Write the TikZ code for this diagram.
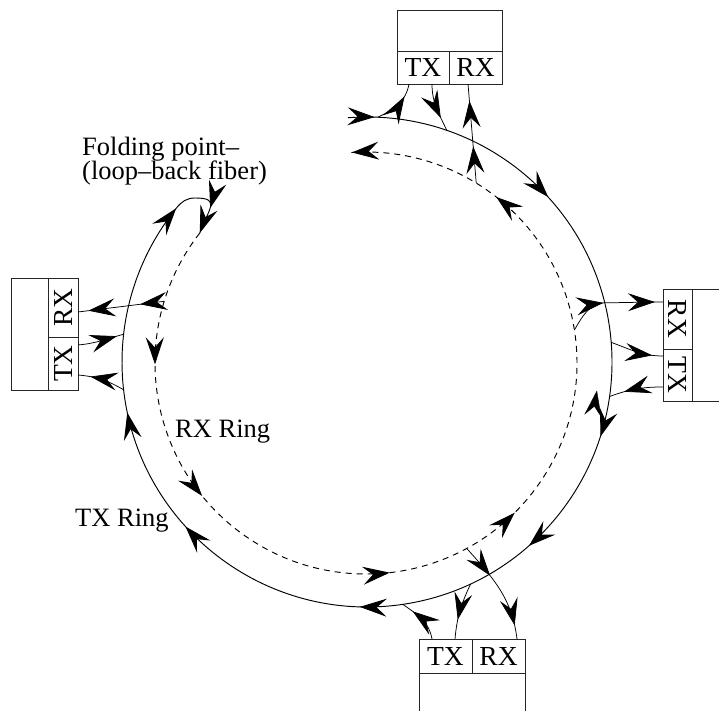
\documentclass[tikz,border=0pt]{standalone}
\usepackage{fontspec}
\setmainfont{Liberation Serif}
\usetikzlibrary{arrows.meta,decorations.markings}
\begin{document}
\begin{tikzpicture}[x=1pt,y=1pt,
  >={Stealth[length=27pt,width=18pt,inset=10pt]},
  ma/.style={postaction={decorate,solid,decoration={markings,mark=at position #1 with {\arrow{>}}}}},
  ring/.style={line width=0.95pt},
  dring/.style={line width=0.95pt,dash pattern=on 6pt off 5pt},
  conn/.style={line width=0.75pt},
  cell/.style={draw=black!85,line width=0.95pt,inner sep=0pt,outer sep=0pt,font=\fontsize{27.5}{27.5}\selectfont},
  boxline/.style={draw=black!85,line width=0.95pt},
  lbl/.style={inner sep=0pt,anchor=base west,font=\fontsize{26.5}{26.5}\selectfont}
]
\useasboundingbox (0,0) rectangle (719,711);
\coordinate (C1) at (367,349);
\coordinate (C2) at (366,348);

% ---- boxes
\node[cell,minimum width=52pt,minimum height=33pt] (topTX) at (423,643.5) {TX};
\node[cell,minimum width=53pt,minimum height=33pt] (topRX) at (475.5,643.5) {RX};
\node[cell,minimum width=105pt,minimum height=41pt] (topUp) at (449.5,680.5) {};

\node[cell,minimum width=37pt,minimum height=112pt] (leftUp) at (29.5,377) {};
\node[cell,minimum width=30pt,minimum height=59pt] (leftRX) at (63,403.5) {\rotatebox{90}{RX}};
\node[cell,minimum width=30pt,minimum height=53pt] (leftTX) at (63,347.5) {\rotatebox{90}{TX}};

\node[cell,minimum width=29pt,minimum height=60pt] (rightRX) at (677.5,392) {\rotatebox{-90}{RX}};
\node[cell,minimum width=29pt,minimum height=52pt] (rightTX) at (677.5,336) {\rotatebox{-90}{TX}};
\draw[boxline] (rightRX.north east) -- (719,422);
\draw[boxline] (rightTX.south east) -- (719,310);

\node[cell,minimum width=53pt,minimum height=34pt] (botTX) at (445.5,55) {TX};
\node[cell,minimum width=53pt,minimum height=34pt] (botRX) at (498.5,55) {RX};
\draw[boxline] (botTX.south west) -- (419,0);
\draw[boxline] (botRX.south east) -- (525,0);

% ---- ports
\coordinate (pA) at ([xshift=12pt]topTX.south west);
\coordinate (pB) at ([xshift=35pt]topTX.south west);
\coordinate (pC) at ([xshift=19pt]topRX.south west);
\coordinate (pLR) at ([yshift=25pt]leftRX.south east);
\coordinate (pLT1) at ([yshift=45pt]leftTX.south east);
\coordinate (pLT2) at ([yshift=15pt]leftTX.south east);
\coordinate (pRR) at ([yshift=47pt]rightRX.south west);
\coordinate (pRT1) at ([yshift=45pt]rightTX.south west);
\coordinate (pRT2) at ([yshift=14pt]rightTX.south west);
\coordinate (pBL) at ([xshift=13pt]botTX.north west);
\coordinate (pBR) at ([xshift=36pt]botTX.north west);
\coordinate (pBX) at ([xshift=45pt]botRX.north west);

% ---- ring points
\coordinate (rA) at ([shift={(87.5:245)}]C1);
\coordinate (rB) at ([shift={(71:245)}]C1);
\coordinate (dC) at ([shift={(58.5:211)}]C2);
\coordinate (dL) at ([shift={(163:211)}]C2);
\coordinate (rL1) at ([shift={(173.5:245)}]C1);
\coordinate (rL2) at ([shift={(186.5:245)}]C1);
\coordinate (dR) at ([shift={(9:211)}]C2);
\coordinate (xR) at ([shift={(14:245)}]C1);
\coordinate (rR1) at ([shift={(4.6:245)}]C1);
\coordinate (rR2) at ([shift={(-8.1:245)}]C1);
\coordinate (dB) at ([shift={(-61.5:211)}]C2);
\coordinate (rB1) at ([shift={(-65:245)}]C1);
\coordinate (rB2) at ([shift={(-81.6:245)}]C1);
\coordinate (S) at ([shift={(141:245)}]C1);
\coordinate (T) at (195,513);
\coordinate (D) at ([shift={(142:211)}]C2);
\coordinate (iso1) at (593,296);
\coordinate (iso2) at (597,321);

% ---- rings
\draw[ring,ma=0.02,ma=0.1665,ma=0.358,ma=0.4565,ma=0.594,ma=0.741,ma=0.8376,ma=0.9995]
  ([shift={(94.5:245)}]C1) arc[start angle=94.5,end angle=-219,radius=245];
\draw[ring,ma=0.62,ma=0.9995] (S) to[out=51,in=180] (T) to[out=0,in=70,looseness=1.9] (D);
\draw[dring,ma=0.123,ma=0.247,ma=0.431,ma=0.554,ma=0.865,ma=0.9995]
  (D) arc[start angle=142,end angle=454,radius=211];

% ---- connectors: top
\draw[conn,ma=0.72] (rA) to[out=25,in=-100] (pA);
\draw[conn,ma=0.72] (pB) to[out=-90,in=115] (rB);
\draw[conn,ma=0.37,ma=0.83] (dC) -- (pC);
% left
\draw[conn,ma=0.28,ma=0.88] (dL) -- (pLR);
\draw[conn,ma=0.85] (pLT1) to[out=5,in=195] (rL1);
\draw[conn,ma=0.74] (rL2) to[out=150,in=-5] (pLT2);
% right
\draw[conn,ma=0.41,ma=0.92] (dR) to[out=60,in=185] (xR) to[out=0,in=180] (pRR);
\draw[conn,ma=0.8] (rR1) to[out=-20,in=180] (pRT1);
\draw[conn,ma=0.72] (pRT2) to[out=180,in=20] (rR2);
\draw[conn,decorate,decoration={markings,mark=at position 1 with {\arrow{>}}}] (iso1) -- (iso2);
% bottom
\draw[conn,ma=0.34,ma=0.87] (dB) to[out=-48,in=97] (pBX);
\draw[conn,ma=0.66] (rB1) to[out=-115,in=85] (pBR);
\draw[conn,ma=0.74] (pBL) to[out=100,in=-35] (rB2);

% ---- labels
\node[lbl] (fold1) at (82,555) {Folding point–};
\node[lbl] (fold2) at (82,531) {(loop–back fiber)};
\node[lbl] (rxring) at (175,273) {RX Ring};
\node[lbl] (txring) at (75,184) {TX Ring};
\end{tikzpicture}
\end{document}
